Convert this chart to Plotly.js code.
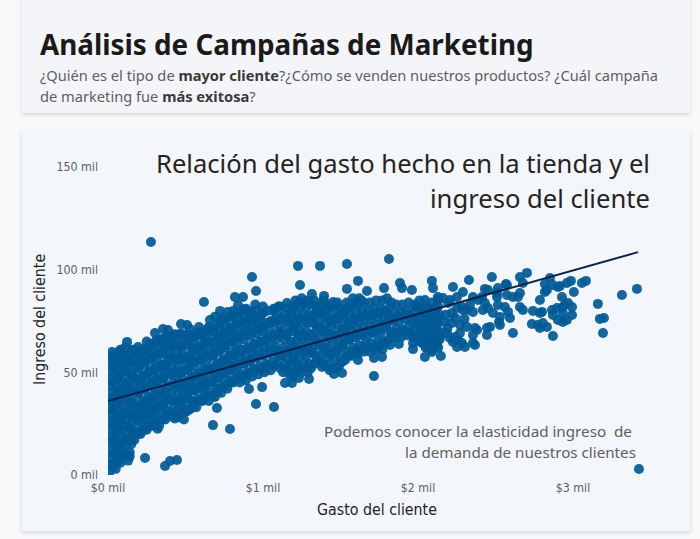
<!DOCTYPE html>
<html>
<head>
<meta charset="utf-8">
<script src="https://cdn.plot.ly/plotly-3.0.1.min.js"></script>
<style>
  html, body { margin:0; padding:0; width:700px; height:539px; overflow:hidden; background:#f8f9fb; }
  #hdr { position:absolute; left:22px; top:-10px; width:668px; height:123px; background:#f3f5f9;
         box-shadow:0 2px 4px rgba(0,0,0,0.14); overflow:hidden; }
  #hdr .t { position:absolute; left:18px; top:39px; font-family:"Noto Sans", sans-serif; font-weight:700;
            font-size:27.8px; line-height:30px; color:#1b1a19; white-space:nowrap; }
  #hdr .s { position:absolute; left:18px; top:74.5px; font-family:"Noto Sans", sans-serif; font-size:14.65px;
            line-height:21px; color:#605e5c; white-space:nowrap; }
  #hdr .s b { color:#3b3a39; font-weight:700; }
  #card { position:absolute; left:22px; top:130px; width:668px; height:401px; background:#f3f6fb;
          box-shadow:0 2px 4px rgba(0,0,0,0.14); }
  #chart { position:absolute; left:0; top:0; width:668px; height:401px; }
</style>
</head>
<body>
<div id="hdr">
  <div class="t" id="ttl">Análisis de Campañas de Marketing</div>
  <div class="s" id="sub">¿Quién es el tipo de <b>mayor cliente</b>?¿Cómo se venden nuestros productos? ¿Cuál campaña<br>de marketing fue <b>más exitosa</b>?</div>
</div>
<div id="card"><div id="chart"></div></div>
<script>
// ---- data: [gasto del cliente (mil $), ingreso del cliente (mil)] ----
const denseLeft = [
[0.01,1.5],[0.02,5],[0.01,8.5],[0.03,12],[0.01,15.5],[0.02,19],[0.01,22.5],[0.03,26],[0.01,29.5],[0.02,33],[0.01,36.5],[0.03,40],[0.01,43.5],[0.02,47],[0.01,50.5],[0.03,54],[0.01,57.5],[0.026,59.9],
[0.05,3],[0.06,7],[0.05,11],[0.06,15],[0.05,19],[0.06,23],[0.05,27],[0.06,31],[0.05,35],[0.06,39],[0.05,43],[0.06,47],[0.05,51],[0.06,55],[0.05,58],
[0.08,6],[0.09,10],[0.08,14],[0.10,18],[0.09,22],[0.08,26],[0.10,30],[0.09,34],[0.08,38],[0.10,42],[0.09,46],[0.08,50],[0.10,54],[0.09,58],[0.08,61],
[0.13,7],[0.14,11],[0.12,15],[0.13,19],[0.14,23],[0.12,27],[0.13,31],[0.14,35],[0.12,39],[0.13,43],[0.14,47],[0.12,51],[0.13,55],[0.14,59],[0.123,64.8],
[0.17,17],[0.18,21],[0.16,25],[0.17,29],[0.18,33],[0.16,37],[0.17,41],[0.18,45],[0.16,49],[0.17,53],[0.18,57],[0.17,61],
[0.21,20],[0.22,24],[0.20,28],[0.21,32],[0.22,36],[0.20,40],[0.21,44],[0.22,48],[0.20,52],[0.21,56],[0.22,60],[0.194,62.3],
[0.25,22],[0.26,26],[0.24,30],[0.25,34],[0.26,38],[0.24,42],[0.25,46],[0.26,50],[0.24,54],[0.25,58],[0.26,62],[0.25,65],
[0.29,24],[0.30,28],[0.28,32],[0.29,36],[0.30,40],[0.28,44],[0.29,48],[0.30,52],[0.28,56],[0.29,60],[0.30,64],[0.303,69.1],
[0.33,24],[0.34,29],[0.32,33],[0.33,37],[0.34,41],[0.32,45],[0.33,49],[0.34,53],[0.32,57],[0.33,61],[0.34,65],[0.355,71.1],
[0.37,27],[0.38,31],[0.36,35],[0.37,39],[0.38,43],[0.36,47],[0.37,51],[0.38,55],[0.36,59],[0.37,63],[0.38,67],[0.387,70.6],
[0.41,29],[0.42,33],[0.40,37],[0.41,41],[0.42,45],[0.40,49],[0.41,53],[0.42,57],[0.40,61],[0.41,65],[0.42,68],
[0.45,28],[0.46,32],[0.44,36],[0.45,40],[0.46,44],[0.44,48],[0.45,52],[0.46,56],[0.44,60],[0.45,64],[0.46,68],[0.471,73.5],
[0.49,27],[0.50,31],[0.48,35],[0.49,39],[0.50,43],[0.48,47],[0.49,51],[0.50,55],[0.48,59],[0.49,63],[0.50,67],[0.529,71.1]
];
const denseFill = [
[0.03,4],[0.035,10.5],[0.03,17],[0.035,24],[0.03,31.5],[0.035,38],[0.03,45.5],[0.035,52],[0.03,56],
[0.07,8.5],[0.075,15],[0.07,21.5],[0.075,28],[0.07,35],[0.075,41.5],[0.07,48],[0.075,54.5],[0.07,60],
[0.11,10.5],[0.115,17],[0.11,24],[0.115,31],[0.11,37.5],[0.115,44],[0.11,50.5],[0.115,57],[0.11,62],
[0.15,15],[0.155,21.5],[0.15,28.5],[0.155,35],[0.15,41.5],[0.155,48.5],[0.15,55],[0.155,61],
[0.19,20],[0.195,26.5],[0.19,33],[0.195,40],[0.19,46.5],[0.195,53],[0.19,59.5],
[0.23,22],[0.235,28.5],[0.23,35],[0.235,42],[0.23,48.5],[0.235,55],[0.23,61.5],
[0.27,24],[0.275,30.5],[0.27,37],[0.275,44],[0.27,50.5],[0.275,57],[0.27,63.5],
[0.31,26],[0.315,32.5],[0.31,39],[0.315,46],[0.31,52.5],[0.315,59],[0.31,65.5],
[0.35,27],[0.355,33.5],[0.35,40],[0.355,47],[0.35,53.5],[0.355,60],[0.35,66.5],
[0.39,30],[0.395,36.5],[0.39,43],[0.395,50],[0.39,56.5],[0.395,63],[0.39,67.5],
[0.43,30],[0.435,36.5],[0.43,43],[0.435,50],[0.43,56.5],[0.435,63],[0.43,68.5],
[0.47,30],[0.475,36.5],[0.47,43],[0.475,50],[0.47,56.5],[0.475,63],[0.47,69],
[0.51,31],[0.515,37.5],[0.51,44],[0.515,51],[0.51,57.5],[0.515,64],[0.51,68.5],
[0.55,35],[0.555,41.5],[0.55,48],[0.555,55],[0.55,61.5],[0.555,67.5],
[0.59,36],[0.595,42.5],[0.59,49],[0.595,56],[0.59,62.5],[0.595,68.5],
[0.63,38],[0.635,44.5],[0.63,51],[0.635,58],[0.63,64.5],[0.635,70.5],
[0.67,38.5],[0.675,45],[0.67,51.5],[0.675,58.5],[0.67,65],[0.675,71.5],
[0.71,41],[0.715,47.5],[0.71,54],[0.715,61],[0.71,67.5],[0.715,74],
[0.75,43],[0.755,49.5],[0.75,56],[0.755,63],[0.75,69.5],[0.755,76],
[0.79,45],[0.795,51.5],[0.79,58],[0.795,65],[0.79,71.5],[0.795,77.5],
[0.83,47],[0.835,53.5],[0.83,60],[0.835,67],[0.83,73.5],[0.835,79],
[0.87,48],[0.875,54.5],[0.87,61],[0.875,68],[0.87,74.5],[0.875,80.5],
[0.91,49],[0.915,55.5],[0.91,62],[0.915,69],[0.91,75.5],[0.915,79.5],
[0.95,51],[0.955,57.5],[0.95,64],[0.955,71],[0.95,77],
[0.99,52],[0.995,58.5],[0.99,65],[0.995,72],[0.99,78],
[1.03,53],[1.035,60],[1.03,67],[1.035,74],[1.03,80],
[1.07,53],[1.075,60],[1.07,68],[1.075,75],[1.07,81],
[1.11,52],[1.115,60],[1.11,68],[1.115,76],[1.11,82],
[1.15,52],[1.155,60],[1.15,68],[1.155,76],
[1.19,48],[1.195,56],[1.19,64],[1.195,72],[1.19,80],
[1.23,52],[1.235,60],[1.23,68],[1.235,76],[1.23,84],
[1.27,52],[1.275,60],[1.27,68],[1.275,76],[1.27,84],
[1.31,52],[1.315,60],[1.31,68],[1.315,76],[1.31,83],
[1.35,56],[1.355,64],[1.35,72],[1.355,80],
[1.39,54],[1.395,62],[1.39,70],[1.395,78],[1.39,85],
[1.43,51],[1.435,59],[1.43,67],[1.435,75],[1.43,82],
[1.47,52],[1.475,60],[1.47,68],[1.475,76],[1.47,83],
[1.51,55],[1.515,63],[1.51,71],[1.515,79],
[1.55,58],[1.555,66],[1.55,74],[1.555,82],
[1.59,60],[1.595,68],[1.59,76],[1.595,84],
[1.63,61],[1.635,69],[1.63,77],[1.635,85],
[1.67,62],[1.675,70],[1.67,78],
[1.71,62],[1.715,70],[1.71,78],
[1.75,63],[1.755,71],[1.75,79],
[1.79,64],[1.795,72],[1.79,80],
[1.83,68],[1.835,76],[1.83,84],
[1.87,69],[1.875,77],
[1.91,70],[1.915,78],
[1.95,69],[1.955,77],
[1.99,67],[1.995,75],[1.99,82],
[2.03,64],[2.035,72],[2.03,79],
[2.07,66],[2.075,74],[2.07,81],
[2.11,64],[2.115,72],[2.11,79]
];
const midBand = [
[0.53,32],[0.54,36],[0.52,40],[0.53,44],[0.54,48],[0.52,52],[0.53,56],[0.54,60],[0.52,64],[0.53,68],
[0.57,33],[0.58,37],[0.56,41],[0.57,45],[0.58,49],[0.56,53],[0.57,57],[0.58,61],[0.56,65],[0.57,69],
[0.61,36],[0.62,40],[0.60,44],[0.61,48],[0.62,52],[0.60,56],[0.61,60],[0.62,64],[0.60,68],[0.594,69.6],
[0.65,36],[0.66,40],[0.64,44],[0.65,48],[0.66,52],[0.64,56],[0.65,60],[0.66,64],[0.64,68],[0.65,72],
[0.69,38],[0.70,42],[0.68,46],[0.69,50],[0.70,54],[0.68,58],[0.69,62],[0.70,66],[0.68,70],[0.658,75.5],
[0.73,40],[0.74,44],[0.72,48],[0.73,52],[0.74,56],[0.72,60],[0.73,64],[0.74,68],[0.72,72],[0.73,76],[0.723,79.9],
[0.77,42],[0.78,46],[0.76,50],[0.77,54],[0.78,58],[0.76,62],[0.77,66],[0.78,70],[0.76,74],[0.774,79.4],
[0.81,45],[0.82,49],[0.80,53],[0.81,57],[0.82,61],[0.80,65],[0.81,69],[0.82,73],[0.80,77],[0.81,80],
[0.85,45],[0.86,49],[0.84,53],[0.85,57],[0.86,61],[0.84,65],[0.85,69],[0.86,73],[0.84,77],[0.839,82.8],
[0.89,46],[0.90,50],[0.88,54],[0.89,58],[0.90,62],[0.88,66],[0.89,70],[0.90,74],[0.88,78],[0.89,81],
[0.93,48],[0.94,52],[0.92,56],[0.93,60],[0.94,64],[0.92,68],[0.93,72],[0.94,76],[0.92,79],
[0.97,49],[0.98,53],[0.96,57],[0.97,61],[0.98,65],[0.96,69],[0.97,73],[0.98,77],[0.96,80],
[1.01,50],[1.02,54],[1.00,58],[1.01,62],[1.02,66],[1.00,70],[1.01,74],[1.00,78.9],
[1.05,51],[1.06,55],[1.04,59],[1.05,63],[1.06,67],[1.04,71],[1.05,75],[1.065,79.9],
[1.09,54],[1.10,58],[1.08,62],[1.09,66],[1.10,70],[1.08,74],[1.09,78],[1.10,82],
[1.13,50],[1.14,54],[1.12,58],[1.13,62],[1.14,66],[1.12,70],[1.13,74],[1.14,78],[1.155,83.7],
[1.17,49],[1.18,53],[1.16,57],[1.17,61],[1.18,65],[1.16,69],[1.17,73],[1.18,77],[1.16,81],
[1.21,50],[1.22,54],[1.20,58],[1.21,62],[1.22,66],[1.20,70],[1.21,74],[1.22,78],[1.20,82],[1.21,85],
[1.25,50],[1.26,54],[1.24,58],[1.25,62],[1.26,66],[1.24,70],[1.25,74],[1.26,78],[1.24,82],[1.25,86],
[1.29,50],[1.30,54],[1.28,58],[1.29,62],[1.30,66],[1.28,70],[1.29,74],[1.30,78],[1.28,82],[1.29,85]
];
const upperBand = [
[1.33,54],[1.34,58],[1.32,62],[1.33,66],[1.34,70],[1.32,74],[1.33,78],[1.34,82],[1.33,85],
[1.37,55],[1.38,59],[1.36,63],[1.37,67],[1.38,71],[1.36,75],[1.37,79],[1.38,83],[1.394,87.2],
[1.41,53],[1.42,57],[1.40,61],[1.41,65],[1.42,69],[1.40,73],[1.41,77],[1.42,81],[1.40,84],
[1.45,52],[1.46,56],[1.44,60],[1.45,64],[1.46,68],[1.44,72],[1.45,76],[1.46,80],[1.452,84.2],
[1.49,53],[1.50,57],[1.48,61],[1.49,65],[1.50,69],[1.48,73],[1.49,77],[1.50,81],[1.48,84],
[1.53,56],[1.54,60],[1.52,64],[1.53,68],[1.54,72],[1.52,76],[1.53,80],[1.54,84],
[1.57,58],[1.58,62],[1.56,66],[1.57,70],[1.58,74],[1.56,78],[1.57,82],[1.58,86],
[1.61,59],[1.62,63],[1.60,67],[1.61,71],[1.62,75],[1.60,79],[1.61,83],[1.62,86],
[1.65,60],[1.66,64],[1.64,68],[1.65,72],[1.66,76],[1.64,80],[1.65,84],
[1.69,60],[1.70,64],[1.68,68],[1.69,72],[1.70,76],[1.68,80],[1.69,84],
[1.73,61],[1.74,65],[1.72,69],[1.73,73],[1.74,77],[1.72,81],[1.73,85],
[1.77,61],[1.78,65],[1.76,69],[1.77,73],[1.78,77],[1.76,81],[1.77,85],
[1.81,66],[1.82,70],[1.80,74],[1.81,78],[1.82,82],[1.80,86],
[1.85,67],[1.86,71],[1.84,75],[1.85,79],[1.86,83],
[1.89,67],[1.90,71],[1.88,75],[1.89,79],[1.90,83],
[1.93,68],[1.94,72],[1.92,76],[1.93,80],[1.94,84],
[1.97,67],[1.98,71],[1.96,75],[1.97,79],[1.98,83],
[2.01,65],[2.02,69],[2.00,73],[2.01,77],[2.02,81],[2.01,85],
[2.05,62],[2.06,66],[2.04,70],[2.05,74],[2.06,78],[2.05,82],
[2.09,64],[2.10,68],[2.08,72],[2.09,76],[2.10,80],[2.09,84],
[2.13,62],[2.14,66],[2.12,70],[2.13,74],[2.14,78],[2.13,82]
];
const rightCloud = [
[2.161,86.2],[2.129,85.2],[2.110,81.3],[2.077,76.9],[2.058,74.5],[2.110,73.0],[2.129,75.5],[2.174,74.5],[2.219,74.0],[2.271,73.0],
[2.316,72.1],[2.368,71.6],[2.355,68.2],[2.381,70.6],[2.445,71.6],[2.465,72.1],[2.529,73.0],[2.355,64.3],[2.303,62.3],[2.284,64.3],
[2.252,62.3],[2.239,67.2],[2.258,65.7],[2.226,64.8],[2.148,57.9],[2.090,60.9],[2.058,62.3],[2.110,65.7],[2.077,67.2],[2.032,69.1],
[2.077,70.6],[2.142,69.6],[2.187,69.1],[2.329,94.9],[2.226,91.5],[2.477,96.4],[2.658,96.4],[2.703,98.4],[2.432,90.6],[2.516,91.0],
[2.568,93.0],[2.658,88.6],[2.645,86.7],[2.677,93.5],[2.852,95.9],[2.819,93.0],[2.832,90.1],[2.871,92.5],[2.916,92.0],[2.961,93.5],
[2.987,94.5],[3.006,89.1],[3.058,93.5],[3.084,94.5],[2.929,86.7],[2.948,82.8],[2.968,83.7],[2.994,81.8],[2.787,85.2],[2.742,79.9],
[2.787,78.9],[2.865,80.3],[2.897,81.3],[2.903,75.5],[2.961,75.5],[2.994,77.9],[2.935,78.9],[2.871,77.9],[2.735,73.5],[2.774,73.0],
[2.806,74.0],[2.832,72.1],[2.871,67.7],[3.161,83.3],[3.316,87.6],[3.413,90.6],[3.174,76.0],[3.200,76.4],[3.194,69.1],[2.613,69.1],
[2.658,81.8],[2.677,80.3],[2.510,86.7],[2.516,82.8],[2.561,81.8],[2.581,79.4],[2.594,76.4],[2.529,76.9],[2.484,78.9],[2.452,81.3],
[2.432,83.7],[2.387,85.2],[2.355,86.7],[2.335,82.8],[2.316,80.3],[2.284,81.8],[2.252,81.3],[2.219,78.9],[2.194,83.7],[2.368,63.3],
[2.445,68.2],[2.523,74.5],[2.787,71.6],[2.800,79.4],[2.935,74.5],[2.935,81.8],[2.903,91.5],[2.819,89.1],[2.613,86.7],[2.574,87.6],
[2.510,88.6],[2.574,92.5],[2.452,90.1],[2.413,86.7],[2.290,89.1],[2.252,86.7],[2.206,85.2],[2.290,80.3],[2.355,79.4],[2.419,80.3],
[2.271,69.1],[2.142,67.2],[2.206,66.7],[2.180,78.0],[2.240,76.5],[2.300,76.0],[2.190,71.5]
];
const upperOutliers = [
[0.277,113.4],[1.226,101.8],[1.368,101.8],[1.542,102.7],[1.813,105.2],[1.239,92.5],[0.955,89.6],[0.929,96.4],[1.316,88.1],[1.542,90.6],
[1.613,94.5],[1.671,89.6],[1.781,91.0],[1.884,93.5],[1.897,91.0],[1.961,90.1],[2.090,94.5],[2.097,91.0],[2.045,85.2],[2.129,86.7],
[0.619,84.2],[0.819,86.7],[0.871,86.7],[0.587,72.0],[0.510,73.0],[0.690,77.0],[0.950,83.0],[1.000,82.0]
];
const lowerOutliers = [
[0.239,8.3],[0.368,4.4],[0.400,6.8],[0.445,7.3],[0.677,24.3],[0.787,22.4],[0.955,34.6],[1.071,33.1],[0.703,32.6],[0.510,32.1],
[0.548,33.1],[0.994,42.8],[0.910,41.9],[1.142,44.8],[1.187,44.8],[1.232,47.2],[1.297,46.7],[1.381,52.6],[1.458,49.2],[1.510,49.7],
[1.716,48.2],[1.613,56.0],[1.716,57.0],[1.768,57.5],[1.819,63.3],[1.877,63.8],[1.968,64.3],[1.968,61.3],[2.045,57.5],[2.090,59.9],
[2.123,63.3],[3.426,2.9],[0.150,17.5],[0.140,9.0],[0.320,22.5],[0.430,27.5]
];
// trend line (regression) endpoints
const trendSpend = [0, 3.42];
const trendIncome = [36, 108.5];
// axis ticks
const xTickVals = [0, 1, 2, 3];
const xTickText = ['$0 mil', '$1 mil', '$2 mil', '$3 mil'];
const yTickVals = [0, 50, 100, 150];
const yTickText = ['0 mil', '50 mil', '100 mil', '150 mil'];

const allPts = denseLeft.concat(denseFill, midBand, upperBand, rightCloud, upperOutliers, lowerOutliers);
const spend = allPts.map(p => p[0]);
const income = allPts.map(p => p[1]);

const tickFont = { family: "'Liberation Sans Narrow', 'DejaVu Sans Condensed', sans-serif", size: 12.3, color: '#605e5c' };
const axTitleFont = { family: "'Liberation Sans Narrow', 'DejaVu Sans Condensed', sans-serif", size: 15.8, color: '#252423' };
const titleFont = { family: "'Noto Sans', sans-serif", size: 25.6, color: '#252423' };
const noteFont = { family: "'Noto Sans', sans-serif", size: 15.2, color: '#605e5c' };

const traces = [
  { type: 'scatter', mode: 'markers', x: spend, y: income, cliponaxis: true,
    marker: { size: 10, color: '#005a96', opacity: 0.92, line: { width: 0 } }, hoverinfo: 'skip' },
  { type: 'scatter', mode: 'lines', x: trendSpend, y: trendIncome,
    line: { color: '#0c2350', width: 2 }, hoverinfo: 'skip' }
];

const layout = {
  width: 668, height: 401,
  margin: { l: 86, r: 45, t: 33, b: 56, pad: 0 },
  paper_bgcolor: 'rgba(0,0,0,0)', plot_bgcolor: 'rgba(0,0,0,0)',
  showlegend: false,
  xaxis: { range: [0, 3.465], tickvals: xTickVals, ticktext: xTickText, showgrid: false, zeroline: false,
           showline: false, ticks: '', tickfont: tickFont, ticklabelstandoff: 4, fixedrange: true },
  yaxis: { range: [0, 151.9], tickvals: yTickVals, ticktext: yTickText, showgrid: false, zeroline: false,
           showline: false, ticks: '', tickfont: tickFont, ticklabelstandoff: 9, fixedrange: true },
  annotations: [
    { text: 'Relación del gasto hecho en la tienda y el', xref: 'paper', yref: 'paper', x: 1.013, y: 1.0,
      xanchor: 'right', yanchor: 'middle', showarrow: false, font: titleFont },
    { text: 'ingreso del cliente', xref: 'paper', yref: 'paper', x: 1.013, y: 0.885,
      xanchor: 'right', yanchor: 'middle', showarrow: false, font: titleFont },
    { text: 'Podemos conocer la elasticidad ingreso&nbsp; de', xref: 'paper', yref: 'paper', x: 0.9795, y: 0.141,
      xanchor: 'right', yanchor: 'middle', showarrow: false, font: noteFont },
    { text: 'la demanda de nuestros clientes', xref: 'paper', yref: 'paper', x: 0.987, y: 0.074,
      xanchor: 'right', yanchor: 'middle', showarrow: false, font: noteFont },
    { text: 'Gasto del cliente', xref: 'paper', yref: 'paper', x: 0.501, y: -0.112,
      xanchor: 'center', yanchor: 'middle', showarrow: false, font: axTitleFont },
    { text: 'Ingreso del cliente', xref: 'paper', yref: 'paper', x: -0.1266, y: 0.497, textangle: -90,
      xanchor: 'center', yanchor: 'middle', showarrow: false, font: axTitleFont }
  ]
};

Plotly.newPlot('chart', traces, layout, { displayModeBar: false, staticPlot: true });
</script>
</body>
</html>
